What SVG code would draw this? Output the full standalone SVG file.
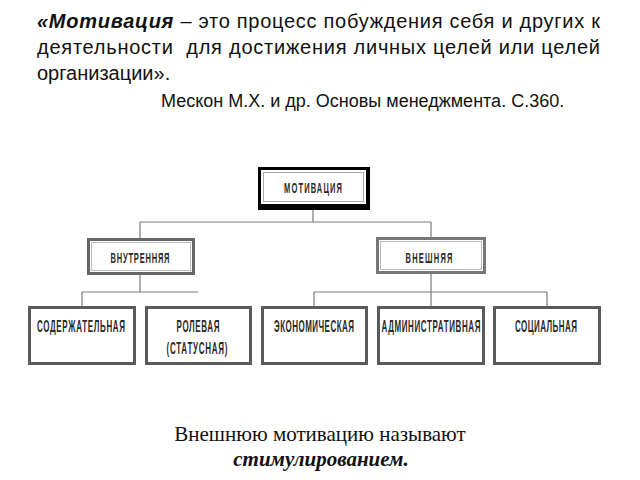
<svg xmlns="http://www.w3.org/2000/svg" width="640" height="480" viewBox="0 0 640 480">
<style>
.t{font-family:"Liberation Sans",Arial,sans-serif;font-size:20px;fill:#111}
.ref{font-family:"Liberation Sans",Arial,sans-serif;font-size:18px;fill:#111}
.lbl{font-family:"Liberation Sans",Arial,sans-serif;font-weight:bold;fill:#2a2a2a;text-anchor:middle}
.conn{stroke:#7a7a7a;stroke-width:1.2;fill:none}
.b3{fill:#fff;stroke:#5a5a5a;stroke-width:3}
.bot{font-family:"Liberation Serif","Times New Roman",serif;font-size:21px;fill:#111;text-anchor:middle}
</style>
<rect width="640" height="480" fill="#fff"/>
<g id="quote">
<text class="t" x="37" y="28" textLength="563" lengthAdjust="spacing"><tspan font-weight="bold" font-style="italic">«Мотивация</tspan> – это процесс побуждения себя и других к</text>
<text class="t" x="37" y="54" textLength="563" lengthAdjust="spacing" xml:space="preserve">деятельности  для достижения личных целей или целей</text>
<text class="t" x="37" y="80">организации».</text>
<text class="ref" x="161" y="107">Мескон М.Х. и др. Основы менеджмента. С.360.</text>
</g>
<g id="connectors">
<path class="conn" d="M313 209V222M140 222H431M140 222V238M431 222V237"/>
<path class="conn" d="M140 275V292M82 292H198M82 292V306"/>
<path class="conn" d="M431 274V306M314 292H547M314 292V306M547 292V306"/>
</g>
<g id="n-motivation">
<rect x="258" y="167" width="112" height="43" fill="#000"/>
<rect x="261" y="170" width="105" height="34" fill="#fff"/>
<rect x="263.5" y="172.5" width="100" height="29" fill="none" stroke="#aaa" stroke-width="1"/>
<text class="lbl" transform="translate(313 192.5) scale(0.5 1)" font-size="15" textLength="116" lengthAdjust="spacing">МОТИВАЦИЯ</text>
</g>
<g id="n-internal">
<rect x="88.5" y="239.5" width="105" height="34" fill="#fff" stroke="#666" stroke-width="3"/>
<rect x="91.5" y="242.5" width="99" height="28" fill="none" stroke="#bbb" stroke-width="1"/>
<text class="lbl" transform="translate(140 262.5) scale(0.5 1)" font-size="15" textLength="118" lengthAdjust="spacing">ВНУТРЕННЯЯ</text>
</g>
<g id="n-external">
<rect x="377.5" y="238.5" width="107" height="34" fill="#fff" stroke="#777" stroke-width="3"/>
<rect x="380.5" y="241.5" width="101" height="28" fill="none" stroke="#bbb" stroke-width="1"/>
<text class="lbl" transform="translate(429 262.5) scale(0.5 1)" font-size="15" textLength="94" lengthAdjust="spacing">ВНЕШНЯЯ</text>
</g>
<g id="n-content">
<rect class="b3" x="29.5" y="307.5" width="105" height="56"/>
<text class="lbl" transform="translate(81 332) scale(0.5 1)" font-size="16" textLength="176" lengthAdjust="spacing">СОДЕРЖАТЕЛЬНАЯ</text>
</g>
<g id="n-role">
<rect class="b3" x="146.5" y="307.5" width="104" height="56"/>
<text class="lbl" transform="translate(198 332) scale(0.5 1)" font-size="16" textLength="86" lengthAdjust="spacing">РОЛЕВАЯ</text>
<text class="lbl" transform="translate(197 354) scale(0.5 1)" font-size="16" textLength="122" lengthAdjust="spacing">(СТАТУСНАЯ)</text>
</g>
<g id="n-econ">
<rect class="b3" x="262.5" y="307.5" width="104" height="56"/>
<text class="lbl" transform="translate(314 332) scale(0.5 1)" font-size="16" textLength="160" lengthAdjust="spacing">ЭКОНОМИЧЕСКАЯ</text>
</g>
<g id="n-admin">
<rect class="b3" x="378.5" y="307.5" width="105" height="56"/>
<text class="lbl" transform="translate(431 332) scale(0.5 1)" font-size="16" textLength="198" lengthAdjust="spacing">АДМИНИСТРАТИВНАЯ</text>
</g>
<g id="n-social">
<rect class="b3" x="494.5" y="307.5" width="105" height="56"/>
<text class="lbl" transform="translate(546 332) scale(0.5 1)" font-size="16" textLength="124" lengthAdjust="spacing">СОЦИАЛЬНАЯ</text>
</g>
<g id="note">
<text class="bot" x="320" y="441">Внешнюю мотивацию называют</text>
<text class="bot" x="321" y="466" font-weight="bold" font-style="italic">стимулированием.</text>
</g>
</svg>
